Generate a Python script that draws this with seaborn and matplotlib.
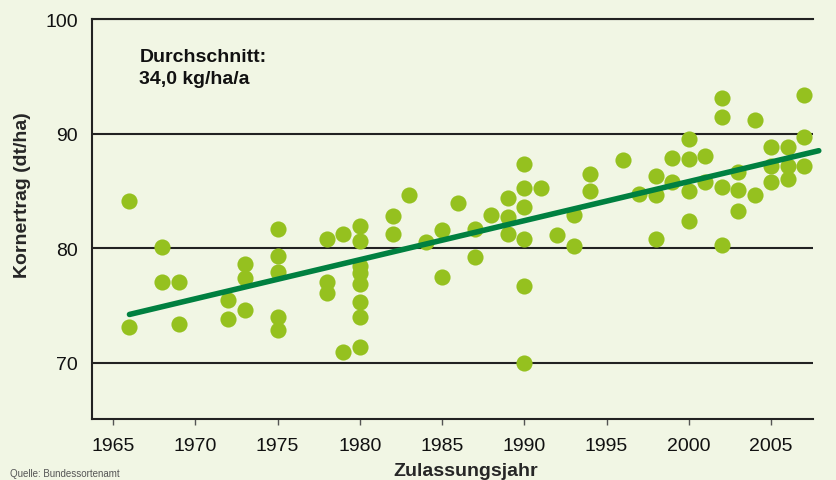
import numpy as np
import pandas as pd
import matplotlib
matplotlib.use('Agg')
import matplotlib.pyplot as plt
import seaborn as sns


######
# Data
######
years = [1966, 1966, 1968, 1968, 1969, 1969, 1972, 1972, 1973, 1973, 1973,
         1975, 1975, 1975, 1975, 1975, 1978, 1978, 1978, 1979, 1979,
         1980, 1980, 1980, 1980, 1980, 1980, 1980, 1980, 1982, 1982, 1983,
         1984, 1985, 1985, 1986, 1987, 1987, 1988, 1989, 1989, 1989,
         1990, 1990, 1990, 1990, 1990, 1990, 1991, 1992, 1993, 1993,
         1994, 1994, 1996, 1997, 1998, 1998, 1998, 1999, 1999,
         2000, 2000, 2000, 2000, 2001, 2001, 2002, 2002, 2002, 2002,
         2003, 2003, 2003, 2004, 2004, 2005, 2005, 2005, 2006, 2006, 2006,
         2007, 2007, 2007]
yields = [84.1, 73.1, 80.1, 77.0, 77.0, 73.4, 75.5, 73.8, 78.6, 77.4, 74.6,
          81.7, 79.3, 77.9, 74.0, 72.8, 80.8, 77.0, 76.1, 81.2, 70.9,
          81.9, 80.6, 78.4, 77.8, 76.9, 75.3, 74.0, 71.4, 82.8, 81.2, 84.6,
          80.5, 81.6, 77.5, 83.9, 81.7, 79.2, 82.9, 84.4, 82.7, 81.2,
          87.3, 85.2, 83.6, 80.8, 76.7, 70.0, 85.2, 81.1, 82.9, 80.2,
          86.5, 85.0, 87.7, 84.7, 86.3, 84.6, 80.8, 87.9, 85.8,
          89.5, 87.8, 85.0, 82.4, 88.0, 85.8, 93.1, 91.4, 85.3, 80.3,
          86.6, 85.1, 83.2, 91.2, 84.6, 88.8, 87.2, 85.8, 88.8, 87.2, 86.0,
          93.4, 89.7, 87.2]

# Trend (Durchschnitt 34,0 kg/ha/a)
trend_years = [1966, 2007.9]
trend_values = [74.2, 88.5]

x_ticks = [1965, 1970, 1975, 1980, 1985, 1990, 1995, 2000, 2005]
y_ticks = [70, 80, 90, 100]


#######
# Style
#######
bg = '#F1F6E4'
dot_color = '#95C11F'
line_color = '#008040'

sns.set_style('ticks')
plt.rcParams['font.family'] = ['Liberation Sans', 'DejaVu Sans']
plt.rcParams['figure.facecolor'] = bg
plt.rcParams['axes.facecolor'] = bg
plt.rcParams['text.color'] = '#111111'
plt.rcParams['xtick.color'] = '#111111'
plt.rcParams['ytick.color'] = '#111111'


######
# Plot
######
df = pd.DataFrame({'Zulassungsjahr': years, 'Kornertrag': yields})
df_trend = pd.DataFrame({'Zulassungsjahr': trend_years, 'Kornertrag': trend_values})

fig = plt.figure(figsize=(8.36, 4.81), dpi=100)
ax = fig.add_axes([0.110, 0.1268, 0.8625, 0.8316])

sns.scatterplot(data=df, x='Zulassungsjahr', y='Kornertrag', ax=ax,
                color=dot_color, s=135, linewidth=0, alpha=1, zorder=3, clip_on=False)
sns.lineplot(data=df_trend, x='Zulassungsjahr', y='Kornertrag', ax=ax,
             color=line_color, linewidth=4, solid_capstyle='round', zorder=4)
for l in ax.lines:
    l.set_clip_on(False)

ax.set_xlim(1963.72, 2007.55)
ax.set_ylim(65.07, 100)
ax.set_xticks(x_ticks)
ax.set_yticks(y_ticks)
ax.tick_params(axis='x', length=4, width=1, color='#555555', labelsize=14, pad=9)
ax.tick_params(axis='y', length=0, labelsize=14, pad=10)
ax.grid(axis='y', color='#222222', linewidth=1.5)
ax.set_axisbelow(True)

ax.spines['right'].set_visible(False)
for s in ['left', 'bottom', 'top']:
    ax.spines[s].set_color('#222222')
    ax.spines[s].set_linewidth(1.5)

ax.set_xlabel('Zulassungsjahr', fontsize=14, fontweight='bold')
ax.set_ylabel('Kornertrag (dt/ha)', fontsize=14, fontweight='bold')
ax.xaxis.set_label_coords(0.519, -0.1275)
ax.yaxis.set_label_coords(-0.097, 0.5625)
ax.xaxis.label.set_va('center')
ax.yaxis.label.set_va('center')

ax.text(1966.6, 97.5, 'Durchschnitt:\n34,0 kg/ha/a', fontsize=14, fontweight='bold',
        va='top', ha='left', linespacing=1.45)

fig.text(0.012, 0.004, 'Quelle: Bundessortenamt', fontsize=7, color='#555555', va='bottom')

fig.savefig('out.png', dpi=100, facecolor=bg)
